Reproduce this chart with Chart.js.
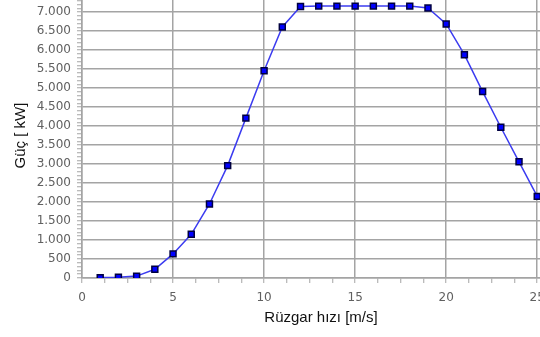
<!DOCTYPE html>
<html>
<head>
<meta charset="utf-8">
<script src="https://cdn.jsdelivr.net/npm/chart.js@4"></script>
<style>
    html, body { margin: 0; padding: 0; width: 540px; height: 337px; overflow: hidden; background: #fff; }
    #wrap { position: absolute; left: 0; top: -20px; width: 580px; height: 357px; }
</style>
</head>
<body>
<div id="wrap"><canvas id="powerChart"></canvas></div>
<script>
    // rüzgar hızı (m/s) ve güç (kW)
    const speeds = [1, 2, 3, 4, 5, 6, 7, 8, 9, 10, 11, 12, 13, 14, 15, 16, 17, 18, 19, 20, 21, 22, 23, 24, 25];
    const power = [10, 20, 50, 230, 635, 1150, 1950, 2960, 4210, 5460, 6610, 7150, 7160, 7160, 7160, 7160, 7160, 7160, 7110, 6690, 5880, 4910, 3970, 3060, 2150];

    const xTitle = 'Rüzgar hızı [m/s]';
    const yTitle = 'Güç [ kW]';

    const gridGrey = '#a4a4a4';
    const fmt = v => String(v).replace(/\B(?=(\d{3})+(?!\d))/g, '.');
    const isMult = (v, m) => Math.abs(v / m - Math.round(v / m)) < 1e-6;

    const ctx = document.getElementById('powerChart').getContext('2d');

    new Chart(ctx, {
        type: 'line',
        data: {
            datasets: [{
                data: speeds.map((s, i) => ({ x: s, y: power[i] })),
                borderColor: '#3c3cf0',
                borderWidth: 1.5,
                tension: 0,
                pointStyle: 'rect',
                pointRadius: 4.2,
                pointBackgroundColor: '#0000ff',
                pointBorderColor: '#000040',
                pointBorderWidth: 1.5
            }]
        },
        options: {
            responsive: true,
            maintainAspectRatio: false,
            animation: false,
            layout: {
                padding: { left: 0, right: 20, top: 11, bottom: 6 }
            },
            scales: {
                x: {
                    type: 'linear',
                    min: 0,
                    max: 26.25,
                    afterFit: s => { s.height = 53; },
                    ticks: {
                        stepSize: 1.25,
                        autoSkip: false,
                        maxRotation: 0,
                        padding: 8,
                        color: '#606060',
                        font: { family: 'DejaVu Sans', size: 12 },
                        callback: v => (isMult(v, 5) ? String(Math.round(v)) : '')
                    },
                    grid: {
                        color: c => (c.tick && isMult(c.tick.value, 5) ? gridGrey : 'transparent'),
                        tickColor: gridGrey,
                        lineWidth: 1.5,
                        tickWidth: 1,
                        tickLength: 5
                    },
                    border: { color: gridGrey, width: 1.5 },
                    title: {
                        display: true,
                        text: xTitle,
                        color: '#111',
                        font: { family: 'Liberation Sans', size: 15 },
                        padding: { top: 4, bottom: 4 }
                    }
                },
                y: {
                    min: 0,
                    max: 7500,
                    afterFit: s => { s.width = 82; },
                    ticks: {
                        stepSize: 100,
                        autoSkip: false,
                        padding: 6,
                        color: '#606060',
                        font: { family: 'DejaVu Sans', size: 12 },
                        callback: v => (isMult(v, 500) ? fmt(v) : '')
                    },
                    grid: {
                        color: c => (c.tick && isMult(c.tick.value, 500) ? gridGrey : 'transparent'),
                        tickColor: gridGrey,
                        lineWidth: 1.5,
                        tickWidth: 1,
                        tickLength: 5
                    },
                    border: { color: gridGrey, width: 1.5 },
                    title: {
                        display: true,
                        text: yTitle,
                        color: '#111',
                        font: { family: 'Liberation Sans', size: 15 },
                        padding: { top: 12, bottom: 4 }
                    }
                }
            },
            plugins: {
                legend: { display: false },
                tooltip: { enabled: false }
            }
        }
    });
</script>
</body>
</html>
